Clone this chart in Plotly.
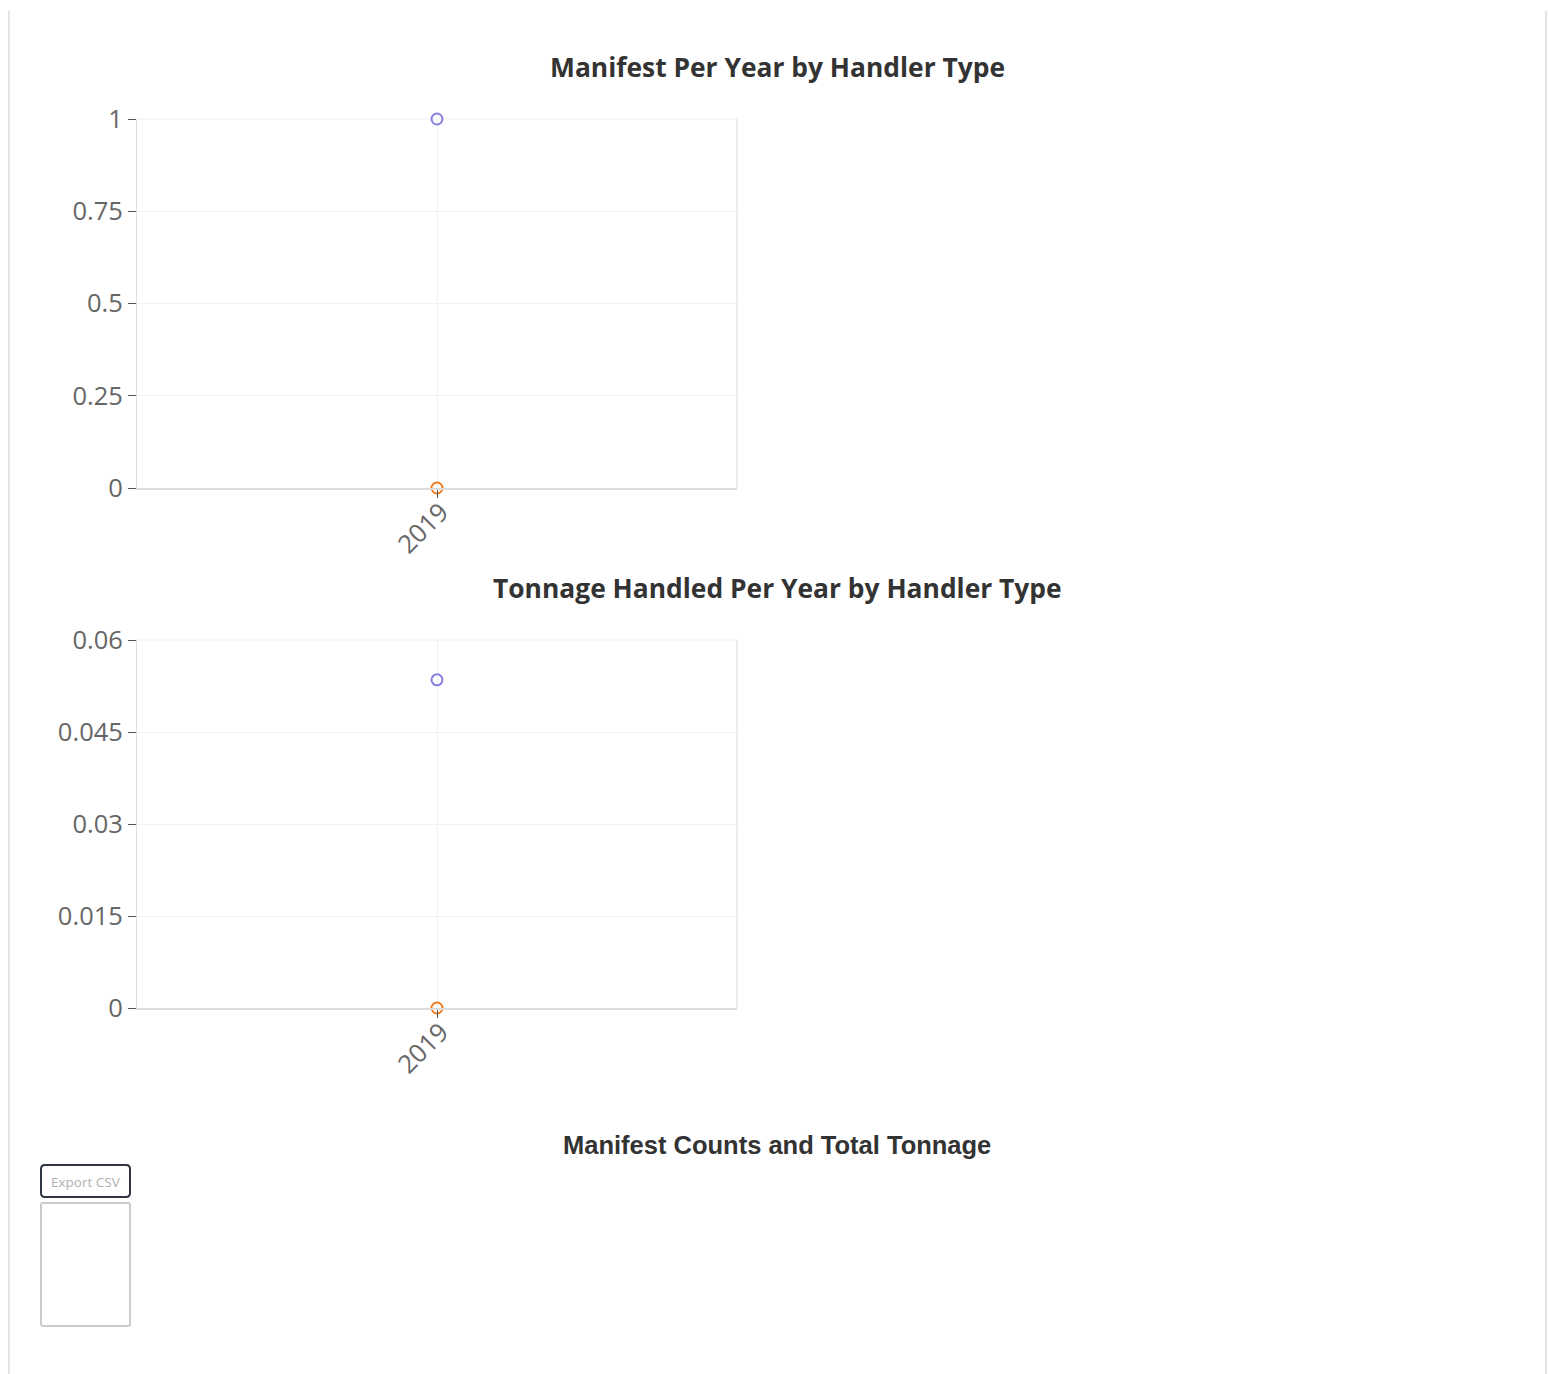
import plotly.graph_objects as go

W, H = 1548, 1374

years = ["2019"]
handler_types = ["Generator", "Transporter"]
manifest_generator = [1]
manifest_transporter = [0]
tonnage_generator = [0.0535]
tonnage_transporter = [0]

manifest_ticks = [0, 0.25, 0.5, 0.75, 1]
manifest_ticktext = ["0", "0.25", "0.5", "0.75", "1"]
tonnage_ticks = [0, 0.015, 0.03, 0.045, 0.06]
tonnage_ticktext = ["0", "0.015", "0.03", "0.045", "0.06"]

colors = ["#8580e0", "#f57c1c"]


def px(x):
    return x / W


def py(y):
    return 1 - y / H


fig = go.Figure()

for series, name, col in [(manifest_generator, handler_types[0], colors[0]),
                          (manifest_transporter, handler_types[1], colors[1])]:
    fig.add_trace(go.Scatter(x=years, y=series, name=name, mode="markers",
                             marker=dict(symbol="circle-open", size=11,
                                         line=dict(width=2, color=col), color=col),
                             xaxis="x", yaxis="y", showlegend=False, cliponaxis=False))

for series, name, col in [(tonnage_generator, handler_types[0], colors[0]),
                          (tonnage_transporter, handler_types[1], colors[1])]:
    fig.add_trace(go.Scatter(x=years, y=series, name=name, mode="markers",
                             marker=dict(symbol="circle-open", size=11,
                                         line=dict(width=2, color=col), color=col),
                             xaxis="x2", yaxis="y2", showlegend=False, cliponaxis=False))

tickfont = dict(family="Open Sans, Noto Sans, sans-serif", size=25.5, color="#666666")

xcommon = dict(type="category", range=[-0.5, 0.5], tickangle=-45, tickfont=tickfont,
               showgrid=True, gridcolor="#f2f2f2", gridwidth=1,
               showline=True, linecolor="#dcdcdc", linewidth=2,
               ticks="outside", ticklen=8, tickcolor="#555", tickwidth=1,
               ticklabelstandoff=-11, ticklabelshift=4,
               zeroline=False, fixedrange=True, automargin=False)
ycommon = dict(tickfont=tickfont, showgrid=True, gridcolor="#f2f2f2", gridwidth=1,
               showline=True, linecolor="#dcdcdc", linewidth=1,
               ticks="outside", ticklen=8, tickcolor="#555", tickwidth=1,
               zeroline=False, fixedrange=True, automargin=False)

fig.update_layout(
    template="none",
    width=W, height=H,
    margin=dict(l=0, r=0, t=0, b=0, pad=0, autoexpand=False),
    paper_bgcolor="white", plot_bgcolor="white",
    xaxis=dict(domain=[px(137), px(737)], anchor="y", **xcommon),
    yaxis=dict(domain=[py(488), py(119)], anchor="x", range=[0, 1],
               tickvals=manifest_ticks, ticktext=manifest_ticktext, **ycommon),
    xaxis2=dict(domain=[px(137), px(737)], anchor="y2", **xcommon),
    yaxis2=dict(domain=[py(1008), py(640)], anchor="x2", range=[0, 0.06],
                tickvals=tonnage_ticks, ticktext=tonnage_ticktext, **ycommon),
)


def rounded_rect(x0, y0, x1, y1, r):
    # pixel coordinates -> paper coordinates path with rounded corners
    rx, ry = r / W, r / H
    X0, X1 = px(x0), px(x1)
    Yt, Yb = py(y0), py(y1)
    return (f"M {X0 + rx},{Yt} L {X1 - rx},{Yt} Q {X1},{Yt} {X1},{Yt - ry} "
            f"L {X1},{Yb + ry} Q {X1},{Yb} {X1 - rx},{Yb} "
            f"L {X0 + rx},{Yb} Q {X0},{Yb} {X0},{Yb + ry} "
            f"L {X0},{Yt - ry} Q {X0},{Yt} {X0 + rx},{Yt} Z")


shapes = []
# faint plot frames (top/right)
for xr, yr in [("x domain", "y domain"), ("x2 domain", "y2 domain")]:
    shapes.append(dict(type="line", xref=xr, yref=yr, x0=0, x1=1, y0=1, y1=1,
                       line=dict(color="#f0f0f0", width=1), layer="below"))
    shapes.append(dict(type="line", xref=xr, yref=yr, x0=1, x1=1, y0=0, y1=1,
                       line=dict(color="#ececec", width=2), layer="below"))
# page borders
shapes.append(dict(type="line", xref="paper", yref="paper", x0=px(9), x1=px(9),
                   y0=py(11), y1=0, line=dict(color="#e4e4e4", width=2)))
shapes.append(dict(type="line", xref="paper", yref="paper", x0=px(1546), x1=px(1546),
                   y0=py(11), y1=0, line=dict(color="#e4e4e4", width=2)))
# export button
shapes.append(dict(type="path", xref="paper", yref="paper",
                   path=rounded_rect(41, 1165, 130, 1197, 4),
                   line=dict(color="#2f3541", width=2)))
# empty table box
shapes.append(dict(type="path", xref="paper", yref="paper",
                   path=rounded_rect(41, 1203, 130, 1326, 2),
                   line=dict(color="#c9cccf", width=2)))
fig.update_layout(shapes=shapes)

title_font = dict(family="Open Sans, Noto Sans, sans-serif", size=26.4, color="#333333")
annotations = [
    dict(text="<b>Manifest Per Year by Handler Type</b>", x=px(777), y=py(67),
         font=title_font),
    dict(text="<b>Tonnage Handled Per Year by Handler Type</b>", x=px(777), y=py(588),
         font=title_font),
    dict(text="<b>Manifest Counts and Total Tonnage</b>", x=px(777), y=py(1145),
         font=dict(family="Liberation Sans, Arial, sans-serif", size=25.5, color="#333333")),
    dict(text="Export CSV", x=px(85.5), y=py(1182),
         font=dict(family="Open Sans, Noto Sans, sans-serif", size=13.5, color="#b0b0b0")),
]
for a in annotations:
    a.update(xref="paper", yref="paper", showarrow=False, xanchor="center", yanchor="middle")
fig.update_layout(annotations=annotations)

fig.write_html("out.html", config=dict(displayModeBar=False),
               post_script="document.body.style.margin='0';"
                           "document.body.style.overflow='hidden';")
